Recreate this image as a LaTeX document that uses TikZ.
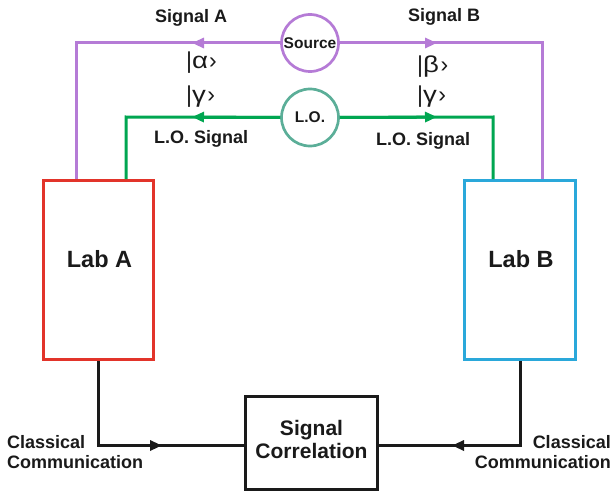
\documentclass[tikz,border=0pt]{standalone}
\usepackage{fontspec}
\usepackage{graphicx}
\setmainfont{Liberation Sans}
\usetikzlibrary{arrows.meta}
\definecolor{purp}{HTML}{B57BD6}
\definecolor{grn}{HTML}{00A651}
\definecolor{teal2}{HTML}{5BAE98}
\definecolor{labred}{HTML}{E2342A}
\definecolor{labcyan}{HTML}{2AA8DA}
\definecolor{ink}{HTML}{1A1A1A}
\newcommand\mygk[1]{\scalebox{1.2}[1]{#1}}
\tikzset{
  wire/.style={line width=3pt},
  tip/.style={-{Triangle[length=12pt,width=10pt]}},
  labbox/.style={draw, line width=3pt, inner sep=0pt, minimum width=#1},
  circ/.style={circle, draw, line width=2.7pt, inner sep=0pt, minimum size=57pt, font=\bfseries\fontsize{15.5}{18}\selectfont, text=ink},
  lbl/.style={font=\bfseries\fontsize{18}{20}\selectfont, text=ink, inner sep=0pt},
  ket/.style={font=\fontsize{23}{24}\selectfont, text=ink, inner sep=0pt},
  big/.style={font=\bfseries\fontsize{23.5}{26}\selectfont, text=ink, inner sep=0pt},
}
\begin{document}
\begin{tikzpicture}[x=1pt,y=-1pt]
\useasboundingbox (0,0) rectangle (612,492);
% boxes
\node[labbox=110pt, minimum height=179pt, draw=labred] (labA) at (98.5,270) {};
\node[labbox=111pt, minimum height=179pt, draw=labcyan] (labB) at (520,270) {};
\node[labbox=132pt, minimum height=93pt, draw=ink] (corr) at (311.5,443) {};
\node[big, anchor=base] (labAt) at (99.5,267) {Lab A};
\node[big, anchor=base] (labBt) at (521,267) {Lab B};
\node[font=\bfseries\fontsize{21}{23}\selectfont, text=ink, inner sep=0pt, anchor=base, align=center] (corrt) at (311.5,458) {Signal\\Correlation};
% circles
\node[circ, draw=purp] (src) at (310,43) {Source};
\node[circ, draw=teal2] (lo) at (310,117.5) {L.O.};
% coordinates
\coordinate (pa) at (76,43);
\coordinate (pb) at (542,43);
\coordinate (ga) at (126,117);
\coordinate (gb) at (493,117);
\coordinate (ca) at (98.5,445.5);
\coordinate (cb) at (520,445.5);
\coordinate (tpa) at (192,43);
\coordinate (tpb) at (437,43);
\coordinate (tga) at (192,117);
\coordinate (tgb) at (437,117);
\coordinate (tca) at (162,445.5);
\coordinate (tcb) at (452,445.5);
% purple signal lines
\draw[wire, purp] (src.west) -- (pa) -- (pa |- labA.north);
\draw[wire, purp] (src.east) -- (pb) -- (pb |- labB.north);
\draw[wire, purp, tip] (src.west) -- (tpa);
\draw[wire, purp, tip] (src.east) -- (tpb);
% green L.O. lines
\draw[wire, grn] (lo.west) -- (ga) -- (ga |- labA.north);
\draw[wire, grn] (lo.east) -- (gb) -- (gb |- labB.north);
\draw[wire, grn, tip] (lo.west) -- (tga);
\draw[wire, grn, tip] (lo.east) -- (tgb);
% black classical lines
\draw[wire, ink] (labA.south) -- (ca) -- (ca -| corr.west);
\draw[wire, ink] (labB.south) -- (cb) -- (cb -| corr.east);
\draw[wire, ink, tip] (ca) -- (tca);
\draw[wire, ink, tip] (cb) -- (tcb);
% labels
\node[lbl, anchor=base west] (sa) at (155,23) {Signal A};
\node[lbl, anchor=base west] (sb) at (408,22) {Signal B};
\node[ket, anchor=base west] (ka) at (186,68.5) {|\mygk{α}\kern1pt›};
\node[ket, anchor=base west] (kga) at (186,102.5) {|\mygk{γ}\kern1.5pt›};
\node[ket, anchor=base west] (kb) at (417,73) {|\mygk{β}\kern1.5pt›};
\node[ket, anchor=base west] (kgb) at (417,102.5) {|\mygk{γ}\kern1.5pt›};
\node[lbl, anchor=base west] (losa) at (154,143) {L.O. Signal};
\node[lbl, anchor=base west] (losb) at (376,145) {L.O. Signal};
\node[lbl, anchor=base west, align=left] (cla) at (7,468) {Classical\\Communication};
\node[lbl, anchor=base east, align=right] (clb) at (611,468) {Classical\\Communication};
\end{tikzpicture}
\end{document}
